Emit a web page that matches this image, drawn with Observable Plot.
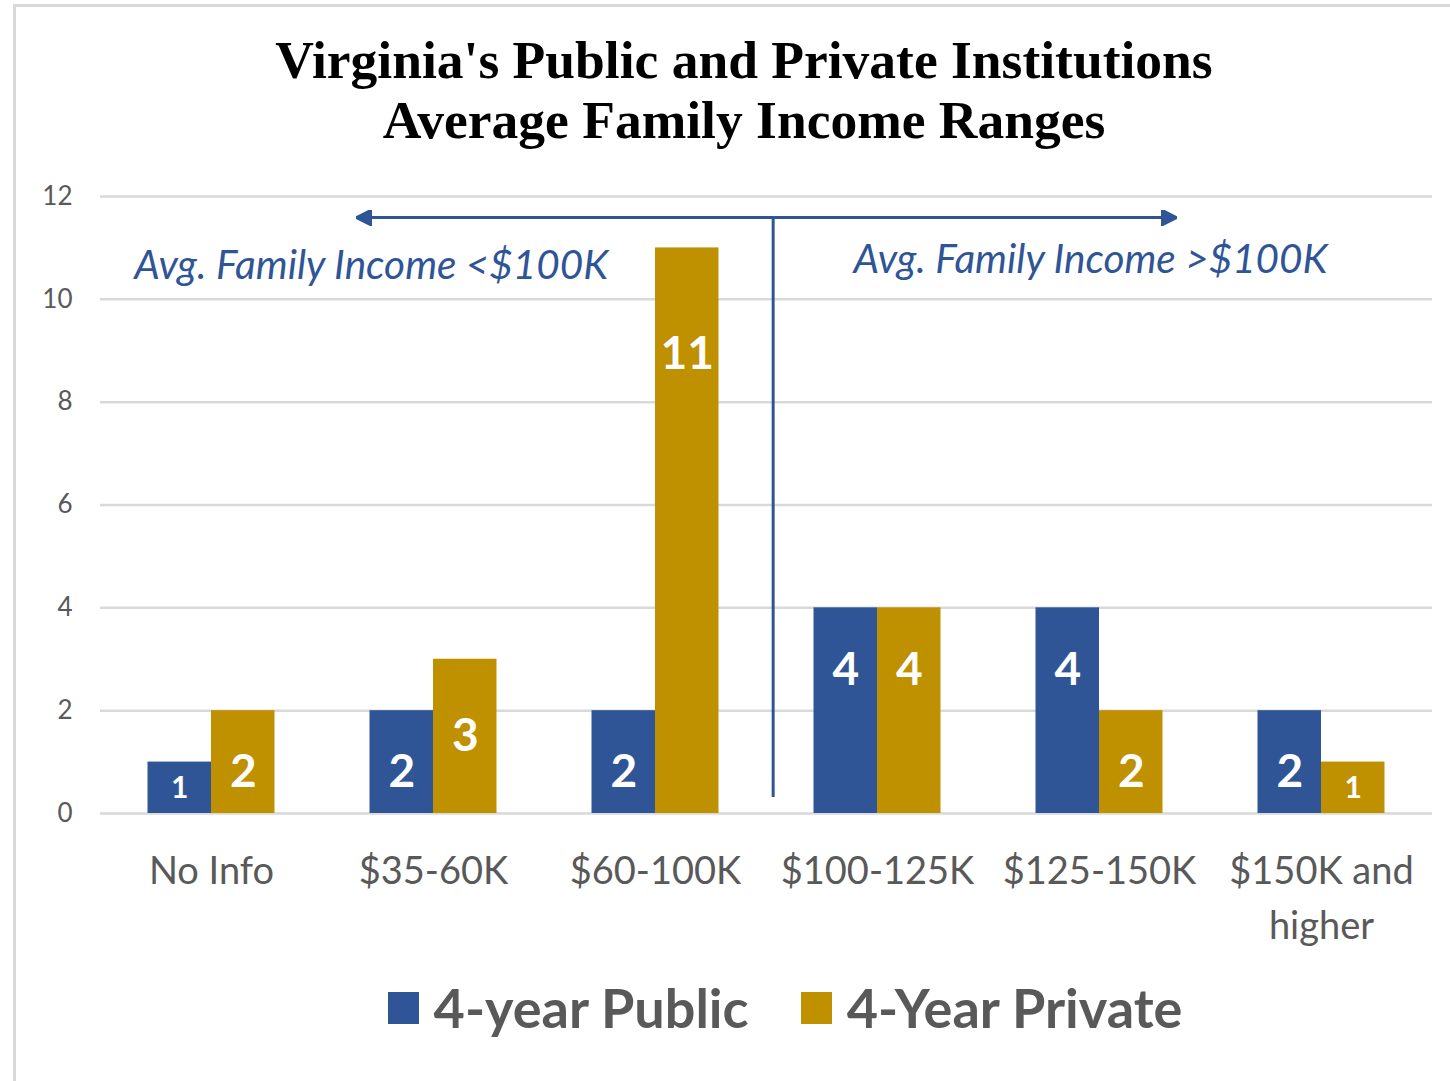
<!DOCTYPE html>
<html>
<head>
<meta charset="utf-8">
<script src="https://cdn.jsdelivr.net/npm/d3@7"></script>
<script src="https://cdn.jsdelivr.net/npm/@observablehq/plot@0.6"></script>
<style>
  html, body { margin: 0; padding: 0; background: #fff; }
  #frame { position: relative; width: 1450px; height: 1081px; overflow: hidden; }
  #border { position: absolute; left: 13px; top: 4px; right: -10px; bottom: -10px;
            border-left: 3px solid #d9d9d9; border-top: 3px solid #d9d9d9; pointer-events: none; }
  #title { height: 170px; box-sizing: border-box; padding-top: 30px; padding-left: 38px; text-align: center;
           font-family: "Liberation Serif", serif; font-weight: bold; font-size: 53.5px;
           line-height: 60px; color: #000; }
  #chart svg { display: block; }
  #legend { display: flex; justify-content: center; align-items: center; padding-top: 15px; padding-left: 120px;
            font-family: Lato, sans-serif; font-weight: bold; font-size: 54px; color: #595959; }
  .item { display: flex; align-items: center; }
  .sw { width: 31px; height: 32px; margin-right: 15px; }
</style>
</head>
<body>
<div id="frame">
  <div id="border"></div>
  <div id="title">Virginia's Public and Private Institutions<br>Average Family Income Ranges</div>
  <div id="chart"></div>
  <div id="legend"></div>
</div>
<script>
// ---- data ----
const categories = ["No Info", "$35-60K", "$60-100K", "$100-125K", "$125-150K", "$150K and higher"];
const tickLabels = ["No Info", "$35-60K", "$60-100K", "$100-125K", "$125-150K", "$150K and\nhigher"];
const seriesNames = ["4-year Public", "4-Year Private"];
const publicValues = [1, 2, 2, 4, 4, 2];
const privateValues = [2, 3, 11, 4, 2, 1];
const seriesColors = ["#2F5597", "#BF9000"];
const yTicks = [0, 2, 4, 6, 8, 10, 12];
// annotation positions in data units (x: category index space, y: count)
const arrowSpan = [1.153, 4.847];
const arrowLevel = 11.59;
const dividerAt = 3.03;
const dividerRange = [0.31, 11.59];
const notes = [
  {text: "Avg. Family Income <$100K", x: 1.22, y: 10.64},
  {text: "Avg. Family Income >$100K", x: 4.46, y: 10.76}
];

// ---- build table ----
const barW = 0.286;
const rows = [];
categories.forEach((c, i) => {
  rows.push({i, cat: c, series: seriesNames[0], value: publicValues[i], x1: i + 0.5 - barW, x2: i + 0.5});
  rows.push({i, cat: c, series: seriesNames[1], value: privateValues[i], x1: i + 0.5, x2: i + 0.5 + barW});
});
const tallRows = rows.filter(d => d.value > 5);
const midRows = rows.filter(d => d.value === 3);
const bigRows = rows.filter(d => d.value > 1 && d.value <= 5 && d.value !== 3);
const smallRows = rows.filter(d => d.value <= 1);

const headMarker = (orient) => (color) =>
  d3.create("svg:marker")
    .attr("viewBox", "-16 -8 16 16")
    .attr("markerWidth", 16)
    .attr("markerHeight", 16)
    .attr("markerUnits", "userSpaceOnUse")
    .attr("orient", orient)
    .attr("fill", color)
    .call(m => m.append("path").attr("d", "M-16,-8L0,0L-16,8Z"))
    .node();

const blue = seriesColors[0];
const labelMark = (data, fontSize, dy) => Plot.text(data, {
  x: d => (d.x1 + d.x2) / 2, y: "value", text: d => String(d.value),
  fill: "white", fontWeight: "bold", fontSize, dy
});

const chart = Plot.plot({
  width: 1450,
  height: 790,
  marginLeft: 100,
  marginRight: 18,
  marginTop: 26,
  marginBottom: 147,
  style: {fontFamily: "Lato, sans-serif", background: "transparent", overflow: "visible"},
  x: {type: "linear", domain: [0, categories.length]},
  y: {domain: [0, 12]},
  color: {domain: seriesNames, range: seriesColors},
  marks: [
    Plot.ruleY(yTicks, {stroke: "#d9d9d9", strokeWidth: 2.5}),
    Plot.axisY({ticks: yTicks, tickSize: 0, tickPadding: 28, fontSize: 26, fill: "#595959", label: null}),
    Plot.axisX({
      ticks: categories.map((c, i) => i + 0.5),
      tickFormat: (d) => tickLabels[Math.floor(d)],
      tickSize: 0, tickPadding: 31, fontSize: 38, lineHeight: 1.45, fill: "#595959", label: null
    }),
    Plot.rectY(rows, {x1: "x1", x2: "x2", y: "value", fill: "series"}),
    labelMark(tallRows, 46, 106),
    labelMark(midRows, 46, 77),
    labelMark(bigRows, 46, 62),
    labelMark(smallRows, 30, 26),
    Plot.ruleX([dividerAt], {y1: dividerRange[0], y2: dividerRange[1], stroke: blue, strokeWidth: 3}),
    Plot.link([{a: arrowSpan[0], b: arrowSpan[1], y: arrowLevel}], {
      x1: "a", x2: "b", y1: "y", y2: "y", stroke: blue, strokeWidth: 3,
      markerStart: headMarker("auto-start-reverse"), markerEnd: headMarker("auto")
    }),
    Plot.text(notes, {x: "x", y: "y", text: "text", fill: blue, fontSize: 40.5, fontStyle: "italic"})
  ]
});
document.getElementById("chart").appendChild(chart);

// legend
const legend = document.getElementById("legend");
seriesNames.forEach((s, k) => {
  const it = document.createElement("div");
  it.className = "item";
  if (k > 0) it.style.marginLeft = "52px";
  const sw = document.createElement("div");
  sw.className = "sw";
  sw.style.background = seriesColors[k];
  const t = document.createElement("span");
  t.textContent = s;
  it.appendChild(sw); it.appendChild(t);
  legend.appendChild(it);
});
</script>
</body>
</html>
